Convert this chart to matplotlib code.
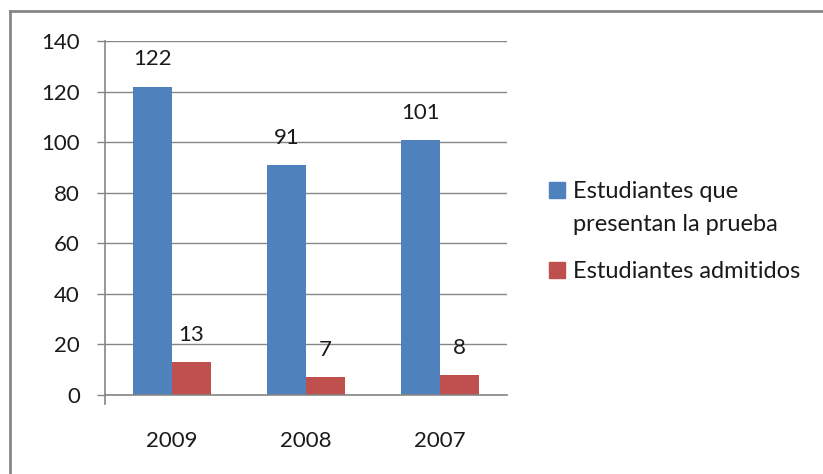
import matplotlib
matplotlib.use("Agg")
import matplotlib.pyplot as plt
from matplotlib.patches import Rectangle
from matplotlib.lines import Line2D
import numpy as np

categories = ["2009", "2008", "2007"]
series_names = ["Estudiantes que\npresentan la prueba", "Estudiantes admitidos"]
presentan = [122, 91, 101]
admitidos = [13, 7, 8]
yticks = [0, 20, 40, 60, 80, 100, 120, 140]

colors = ["#4F81BD", "#C0504D"]
W, H = 823, 474
plt.rcParams['font.family'] = ['Lato', 'DejaVu Sans']
fs = 16

fig = plt.figure(figsize=(W / 100, H / 100), dpi=100)
ax = fig.add_axes([105 / W, 1 - 395 / H, (507 - 105) / W, (395 - 41) / H])

x = np.arange(len(categories))
bw = 0.29
for vals, off, c in [(presentan, -bw / 2, colors[0]), (admitidos, bw / 2, colors[1])]:
    bars = ax.bar(x + off, vals, width=bw, color=c, zorder=3)
    for b, v in zip(bars, vals):
        ax.annotate(str(v), (b.get_x() + b.get_width() / 2, v), xytext=(0, 19.5),
                    textcoords="offset points", ha="center", va="center",
                    fontsize=fs, color="#1a1a1a")

ax.set_xlim(-0.5, len(categories) - 0.5)
ax.set_ylim(0, 140)
ax.set_yticks(yticks)
ax.set_xticks(x)
ax.set_xticklabels(categories)
ax.yaxis.grid(True, color="#868686", linewidth=1, zorder=0)
for s in ["top", "right", "left"]:
    ax.spines[s].set_visible(False)
ax.spines["bottom"].set_color("#868686")
ax.spines["bottom"].set_linewidth(1.2)
ax.spines["bottom"].set_zorder(4)
ax.add_line(Line2D([0, 0], [-9 / 354, 1], transform=ax.transAxes, color="#868686",
                   linewidth=1.2, clip_on=False))
ax.tick_params(axis="y", length=6, width=1, color="#868686", pad=12,
               labelsize=fs, labelcolor="#1a1a1a")
ax.tick_params(axis="x", length=0, pad=26, labelsize=fs, labelcolor="#1a1a1a")

# legend (manual, Excel-like: square aligned with first line)
lfs = 17
line_gap = 33
entries = [(190, 198, series_names[0], colors[0]), (270, 278, series_names[1], colors[1])]
for sq_cy, base_y, name, c in entries:
    fig.patches.append(Rectangle((549 / W, 1 - (sq_cy + 8) / H), 16 / W, 16 / H,
                                 transform=fig.transFigure, color=c))
    for i, line in enumerate(name.split("\n")):
        fig.text(573 / W, 1 - (base_y + i * line_gap) / H, line, ha="left", va="baseline",
                 fontsize=lfs, color="#1a1a1a")

# outer frame (top and left edges)
fig.add_artist(Line2D([10 / W, 1], [1 - 11 / H, 1 - 11 / H], transform=fig.transFigure,
                      color="#868686", linewidth=2))
fig.add_artist(Line2D([10 / W, 10 / W], [0, 1 - 11 / H], transform=fig.transFigure,
                      color="#868686", linewidth=2))

fig.savefig("out.png", dpi=100)
